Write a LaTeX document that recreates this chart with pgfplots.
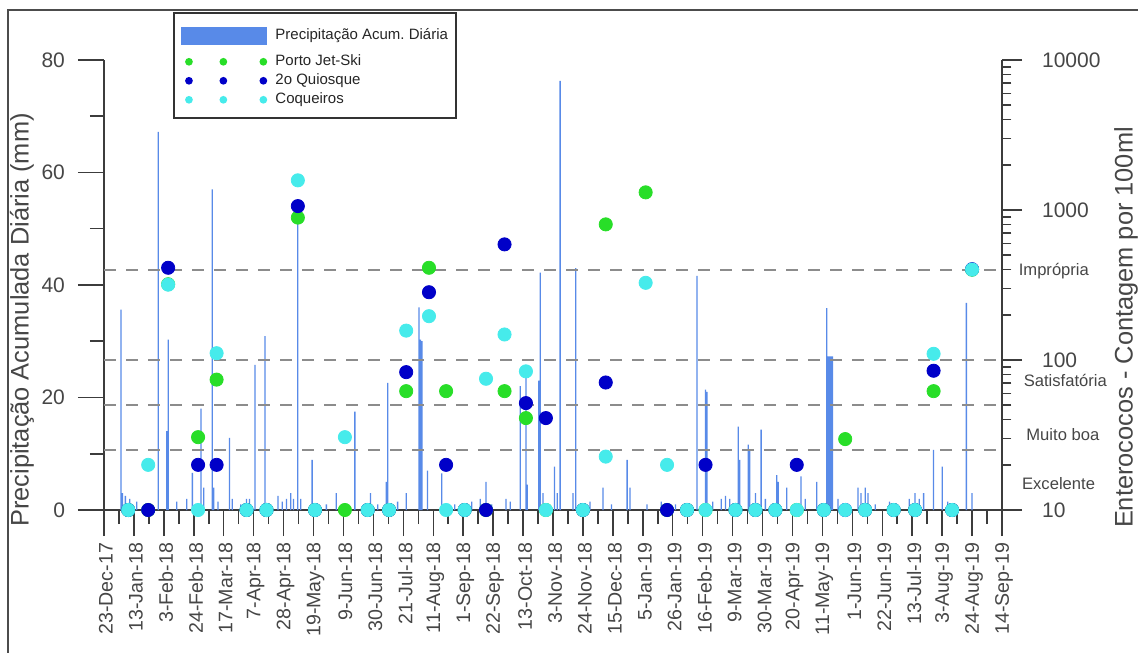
\documentclass[border=0pt]{standalone}
\usepackage{pgfplots}
\pgfplotsset{compat=1.18}
\usepackage{fontspec}
\setmainfont{Liberation Sans}
\definecolor{precip}{RGB}{88,138,232}
\definecolor{ptgreen}{RGB}{40,222,40}
\definecolor{qnavy}{RGB}{0,0,200}
\definecolor{cqcyan}{RGB}{70,235,235}
\definecolor{axgray}{RGB}{60,60,60}
\definecolor{txtgray}{RGB}{70,70,70}
\pgfplotsset{
  dotleg/.style={legend image code/.code={
    \fill (3.65pt,0pt) circle (1.5pt) (20.85pt,0pt) circle (1.5pt) (40.85pt,0pt) circle (1.5pt);
    \path[draw=none,fill=none] (0pt,-4.75pt) rectangle (42.5pt,4.75pt);}},
  dot/.style={only marks, mark=*, mark size=3.3pt, color=#1, mark options={draw=#1, fill=#1}},
  level/.style={forget plot, gray!90, line width=1pt, dash pattern=on 6pt off 5pt},
}
\begin{document}
\begin{tikzpicture}
\path[use as bounding box] (-52pt,-71pt) rectangle (517pt,255pt);
\draw[line width=1.1pt, black!70] (-48pt,-80pt) -- (-48pt,250pt) -- (530pt,250pt);
\begin{axis}[
  scale only axis, width=449pt, height=225pt,
  xmin=0, xmax=630, ymin=0, ymax=80,
  axis x line*=bottom, axis y line*=left,
  axis line style={axgray, line width=0.75pt},
  every tick/.style={axgray, line width=0.75pt},
  tick align=outside,
  major tick length=13pt, minor tick length=7pt,
  xtick={0,21,...,630},
  xticklabels={23-Dec-17,13-Jan-18,3-Feb-18,24-Feb-18,17-Mar-18,7-Apr-18,28-Apr-18,19-May-18,9-Jun-18,30-Jun-18,21-Jul-18,11-Aug-18,1-Sep-18,22-Sep-18,13-Oct-18,3-Nov-18,24-Nov-18,15-Dec-18,5-Jan-19,26-Jan-19,16-Feb-19,9-Mar-19,30-Mar-19,20-Apr-19,11-May-19,1-Jun-19,22-Jun-19,13-Jul-19,3-Aug-19,24-Aug-19,14-Sep-19},
  minor x tick num=1,
  ytick={0,20,40,60,80}, yticklabels={0,20,40,60,80},
  minor y tick num=1,
  xticklabel style={rotate=90, anchor=east, yshift=-1pt, font=\fontsize{9.8}{10}\selectfont, text=txtgray},
  yticklabel style={xshift=-3pt, font=\fontsize{10.5}{12}\selectfont, text=txtgray},
]
\addplot[ybar, bar width=0.9, fill=precip, draw=none, forget plot] coordinates {
(12,35.6) (13,3) (15,2.5) (18,2) (20,1) (23,1.5) (38,67.2) (44,14) (45,30.3) (51,1.5) (58,2)
(62,6.6) (68,18) (70,4) (76,57) (77,4) (80,1.5) (88,12.8) (90,2) (96,1) (100,2) (102,2)
(106,25.8) (113,30.9) (122,2.5) (125,1.5) (128,2) (131,3) (133,2) (136,52.4) (138,2)
(146,8.9) (156,1) (163,3) (176,17.5) (187,3) (192,1) (198,5) (199,22.6) (206,1.5) (212,3)
(221,36) (222,30.3) (223,30) (227,7) (237,6.5) (246,1) (258,1.5) (264,2) (268,5) (272,1)
(282,2) (285,1.5) (292,22) (296,23.8) (297,4.5) (305,23) (306,42.2) (308,3) (316,7.7)
(318,3) (320,76.3) (329,3) (331,43) (341,1.5) (350,4) (356,1) (367,8.9) (369,4) (381,1)
(391,1.5) (401,1) (416,41.6) (422,21.4) (423,21) (427,1.5) (433,2) (436,2.5) (439,2)
(445,14.8) (446,8.9) (452,11.6) (453,10.7) (457,3) (461,14.3) (464,2) (472,6.2) (473,5)
(479,4) (489,6) (492,2) (500,5) (507,35.9) (508,27.3) (509,27.3) (510,27.3) (511,27.3)
(515,2) (529,4) (531,3) (534,4) (536,3) (541,1) (551,1.5) (565,2) (569,3) (572,2) (575,3)
(582,10.7) (588,7.7) (592,1.5) (605,36.8) (609,3)
};
\end{axis}
\begin{axis}[
  scale only axis, width=449pt, height=225pt,
  xmin=0, xmax=630, ymode=log, ymin=10, ymax=10000,
  axis x line=none, axis y line*=right,
  axis line style={axgray, line width=0.75pt},
  every tick/.style={axgray, line width=0.75pt},
  tick align=outside,
  major tick length=10pt, minor tick length=4.7pt,
  ytick={10,100,1000,10000}, yticklabels={10,100,1000,10000},
  minor ytick={20,30,40,50,60,70,80,90,200,300,400,500,600,700,800,900,2000,3000,4000,5000,6000,7000,8000,9000},
  yticklabel style={xshift=6.5pt, font=\fontsize{10.5}{12}\selectfont, text=txtgray},
  clip mode=individual,
  legend cell align=left,
  legend style={at={(axis description cs:0.0769,1.1067)}, anchor=north west,
    draw=black!80, line width=0.8pt, fill=white,
    font=\fontsize{7.5}{9}\selectfont, text=black!85,
    inner xsep=3.5pt, inner ysep=4.5pt, row sep=0pt,
    nodes={inner sep=0.5pt},
    /tikz/every odd column/.append style={column sep=3.5pt}},
]
\addlegendimage{legend image code/.code={\fill[precip] (0pt,-4.15pt) rectangle (42.5pt,4.15pt); \path[draw=none,fill=none] (0pt,-8.25pt) rectangle (42.5pt,7pt);}}
\addlegendentry{Precipitação Acum.\ Diária}
\addplot[level] coordinates {(0,400) (630,400)};
\addplot[level] coordinates {(0,100) (630,100)};
\addplot[level] coordinates {(0,50) (630,50)};
\addplot[level] coordinates {(0,25) (630,25)};
\addplot[dot=ptgreen, dotleg] coordinates {
(17,10) (31,10) (45,320) (66,30.6) (79,74) (100,10) (114,10) (136,890) (148,10) (169,10)
(185,10) (200,10) (212,62) (228,412) (240,62) (253,10) (268,10) (281,62) (296,41) (310,10)
(336,10) (352,802) (380,1311) (395,10) (409,10) (422,10) (443,10) (457,10) (471,10) (486,10)
(505,10) (520,29.7) (534,10) (554,10) (569,10) (582,62) (595,10) (609,400)
};
\addlegendentry{Porto Jet-Ski}
\addplot[dot=qnavy, dotleg] coordinates {
(17,10) (31,10) (45,412) (66,20) (79,20) (100,10) (114,10) (136,1062) (148,10)
(185,10) (200,10) (212,83) (228,283) (240,20) (253,10) (268,10) (281,590) (296,51.6) (310,41)
(336,10) (352,70.8) (395,10) (409,10) (422,20) (443,10) (457,10) (471,10) (486,20)
(505,10) (520,10) (534,10) (554,10) (569,10) (582,84.8) (595,10) (609,403)
};
\addlegendentry{2o Quiosque}
\addplot[dot=cqcyan, dotleg] coordinates {
(17,10) (31,20) (45,318) (66,10) (79,111) (100,10) (114,10) (136,1577) (148,10) (169,30.6)
(185,10) (200,10) (212,157) (228,196) (240,10) (253,10) (268,75) (281,148) (296,84) (310,10)
(336,10) (352,22.7) (380,327) (395,20) (409,10) (422,10) (443,10) (457,10) (471,10) (486,10)
(505,10) (520,10) (534,10) (554,10) (569,10) (582,110) (595,10) (609,401)
};
\addlegendentry{Coqueiros}
\begin{scope}[every node/.style={anchor=west, inner sep=0pt, font=\fontsize{8.3}{9}\selectfont, text=txtgray}]
\node[xshift=8.2pt] at (axis cs:630,390) {Imprópria};
\node[xshift=10.7pt] at (axis cs:630,72.7) {Satisfatória};
\node[xshift=12pt] at (axis cs:630,32) {Muito boa};
\node[xshift=9.85pt] at (axis cs:630,15.1) {Excelente};
\end{scope}
\end{axis}
\node[rotate=90, font=\fontsize{12.7}{14}\selectfont, text=txtgray] at (-41pt,95pt) {Precipitação Acumulada Diária (mm)};
\node[rotate=90, font=\fontsize{12.7}{14}\selectfont, text=txtgray] at (511pt,91.25pt) {Enterococos - Contagem por 100ml};
\end{tikzpicture}
\end{document}
